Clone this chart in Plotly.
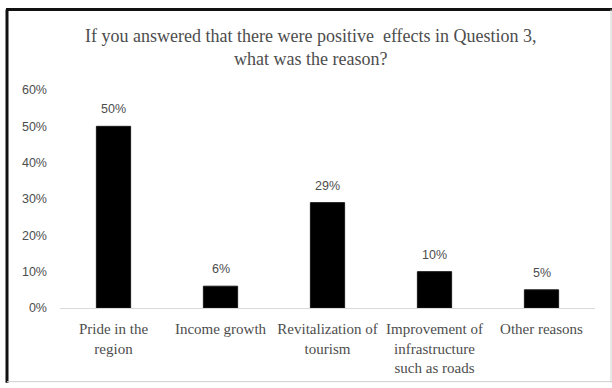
import plotly.graph_objects as go

# Survey responses: reasons for positive effects
categories = [
    "Pride in the<br>region",
    "Income growth",
    "Revitalization of<br>tourism",
    "Improvement of<br>infrastructure<br>such as roads",
    "Other reasons",
]
shares = [0.50, 0.06, 0.29, 0.10, 0.05]
tick_values = [0, 0.1, 0.2, 0.3, 0.4, 0.5, 0.6]
tick_labels = ["0%", "10%", "20%", "30%", "40%", "50%", "60%"]
title_text = ("If you answered that there were positive  effects in Question 3,"
              "<br>what was the reason?")

W, H = 612, 388
L, R, T, B = 60, 17, 90, 76

fig = go.Figure()
fig.add_trace(go.Bar(
    x=categories,
    y=shares,
    marker=dict(color="#000000", line=dict(color="#1a1a1a", width=1)),
    hoverinfo="skip",
))

# Value labels above each bar
for cat, v in zip(categories, shares):
    fig.add_annotation(
        x=cat, y=v, text=f"{round(v * 100)}%", showarrow=False,
        yanchor="bottom", yshift=8,
        font=dict(family="Liberation Sans", size=12.5, color="#4d4d4d"),
    )

# Title (two lines, serif)
plot_w, plot_h = W - L - R, H - T - B
def px_to_paper_x(px):
    return (px - L) / plot_w
def px_to_paper_y(py):
    return (H - B - py) / plot_h

fig.add_annotation(
    xref="paper", yref="paper",
    x=px_to_paper_x(311), y=px_to_paper_y(47),
    xanchor="center", yanchor="middle",
    text=title_text, showarrow=False,
    font=dict(family="Liberation Serif", size=18, color="#4d4d4d"),
)

# Frame around the chart: heavy top/left edge, light right/bottom edge
frame = [
    (6, 8, W, 8, "#111111", 3),
    (7, 8, 7, H, "#111111", 3),
    (W - 1, 8, W - 1, H, "#d0d0d0", 1),
    (7, H - 1, W, H - 1, "#d0d0d0", 1),
]
for x0, y0, x1, y1, c, w in frame:
    fig.add_shape(
        type="line", xref="paper", yref="paper",
        x0=px_to_paper_x(x0), y0=px_to_paper_y(y0),
        x1=px_to_paper_x(x1), y1=px_to_paper_y(y1),
        line=dict(color=c, width=w),
    )

fig.update_layout(
    width=W, height=H,
    margin=dict(l=L, r=R, t=T, b=B, pad=0),
    paper_bgcolor="white", plot_bgcolor="white",
    bargap=0.68,
    showlegend=False,
    xaxis=dict(
        showline=True, linecolor="#d9d9d9", linewidth=1,
        showgrid=False, ticks="", ticklabelstandoff=7,
        tickfont=dict(family="Liberation Serif", size=15, color="#4d4d4d"),
        fixedrange=True,
    ),
    yaxis=dict(
        range=[0, 0.6], tickvals=tick_values, ticktext=tick_labels,
        showline=False, showgrid=False, zeroline=False, ticks="",
        ticklabelstandoff=12,
        tickfont=dict(family="Liberation Sans", size=12.5, color="#4d4d4d"),
        fixedrange=True,
    ),
)

fig.write_html("out.html")
